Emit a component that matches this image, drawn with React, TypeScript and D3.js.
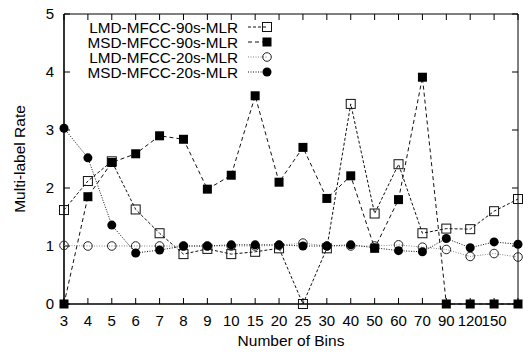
import React from "react";
import * as d3 from "d3";

const categories = ["3", "4", "5", "6", "7", "8", "9", "10", "15", "20", "25", "30", "40", "50", "60", "70", "90", "120", "150", "200"];
const tickLabels = ["3", "4", "5", "6", "7", "8", "9", "10", "15", "20", "25", "30", "40", "50", "60", "70", "90", "120", "150", ""];
const yTicks = [0, 1, 2, 3, 4, 5];

const lmd90 = [1.62, 2.12, 2.46, 1.63, 1.22, 0.86, 0.95, 0.86, 0.9, 0.96, 0, 0.96, 3.45, 1.56, 2.41, 1.22, 1.3, 1.29, 1.6, 1.81];
const msd90 = [0, 1.85, 2.44, 2.59, 2.9, 2.84, 1.98, 2.22, 3.59, 2.1, 2.7, 1.82, 2.21, 0.96, 1.8, 3.91, 0, 0, 0, 0];
const lmd20 = [1.01, 1.0, 1.0, 1.0, 1.0, 1.0, 1.0, 1.0, 1.0, 1.01, 1.05, 1.0, 1.0, 1.0, 1.02, 0.98, 0.94, 0.82, 0.87, 0.81];
const msd20 = [3.03, 2.52, 1.36, 0.88, 0.93, 1.0, 1.0, 1.02, 1.02, 1.02, 1.0, 1.0, 1.02, 0.97, 0.92, 0.9, 1.13, 0.97, 1.07, 1.03];

type Marker = "openSquare" | "filledSquare" | "openCircle" | "filledCircle";
interface Series {
  name: string;
  values: number[];
  marker: Marker;
  dash: string;
  color: string;
  markerColor: string;
}

const series: Series[] = [
  { name: "LMD-MFCC-90s-MLR", values: lmd90, marker: "openSquare", dash: "3,2", color: "#111", markerColor: "#111" },
  { name: "MSD-MFCC-90s-MLR", values: msd90, marker: "filledSquare", dash: "4,3", color: "#111", markerColor: "#000" },
  { name: "LMD-MFCC-20s-MLR", values: lmd20, marker: "openCircle", dash: "1,1.5", color: "#888", markerColor: "#222" },
  { name: "MSD-MFCC-20s-MLR", values: msd20, marker: "filledCircle", dash: "1,1.5", color: "#111", markerColor: "#000" },
];

const FONT = "'Liberation Sans', Arial, Helvetica, sans-serif";
const FS = 15;

function MarkerShape({ type, x, y, color }: { type: Marker; x: number; y: number; color: string }) {
  switch (type) {
    case "openSquare":
      return <rect x={x - 4.5} y={y - 4.5} width={9} height={9} fill="none" stroke={color} strokeWidth={1} />;
    case "filledSquare":
      return <rect x={x - 4.5} y={y - 4.5} width={9} height={9} fill={color} />;
    case "openCircle":
      return <circle cx={x} cy={y} r={4.3} fill="none" stroke={color} strokeWidth={1} />;
    default:
      return <circle cx={x} cy={y} r={4.5} fill={color} />;
  }
}

export default function App() {
  const W = 523;
  const H = 354;
  const left = 64;
  const right = 518;
  const top = 14;
  const bottom = 304;

  const x = d3.scalePoint<string>().domain(categories).range([left, right]);
  const y = d3.scaleLinear().domain([0, 5]).range([bottom, top]);

  const line = d3
    .line<number>()
    .x((_, i) => x(categories[i]) as number)
    .y((v) => y(v));

  const legendRows = [27, 42, 57, 72];

  return (
    <svg width={W} height={H} style={{ position: "absolute", left: 0, top: 0, background: "#fff" }} fontFamily={FONT}>
      <rect width={W} height={H} fill="#fff" />

      {/* ticks: bottom/top at each bin, left/right at each rate level */}
      {categories.map((c, i) => {
        const xx = x(c) as number;
        return (
          <g key={c}>
            <line x1={xx} x2={xx} y1={bottom} y2={bottom - 6} stroke="#000" />
            <line x1={xx} x2={xx} y1={top} y2={top + 6} stroke="#000" />
            <text x={xx} y={bottom + 22} textAnchor="middle" fontSize={FS} fill="#000">
              {tickLabels[i]}
            </text>
          </g>
        );
      })}
      {yTicks.map((t) => (
        <g key={t}>
          <line x1={left} x2={left + 6} y1={y(t)} y2={y(t)} stroke="#000" />
          <line x1={right} x2={right - 6} y1={y(t)} y2={y(t)} stroke="#000" />
          <text x={left - 10} y={y(t) + 5} textAnchor="end" fontSize={FS} fill="#000">
            {t}
          </text>
        </g>
      ))}

      {/* frame */}
      <line x1={left} x2={right} y1={top} y2={top} stroke="#000" strokeWidth={1} />
      <line x1={right} x2={right} y1={top} y2={bottom} stroke="#000" strokeWidth={1} />
      <line x1={left} x2={left} y1={top} y2={bottom} stroke="#000" strokeWidth={1.6} />
      <line x1={left} x2={right} y1={bottom} y2={bottom} stroke="#000" strokeWidth={1.6} />

      {/* axis titles */}
      <text x={(left + right) / 2} y={346} textAnchor="middle" fontSize={15.5} fill="#000">
        Number of Bins
      </text>
      <text
        transform={`translate(25, ${(top + bottom) / 2}) rotate(-90)`}
        textAnchor="middle"
        fontSize={15.5}
        fill="#000"
      >
        Multi-label Rate
      </text>

      {/* series */}
      {series.map((s) => (
        <g key={s.name}>
          <path d={line(s.values) ?? ""} fill="none" stroke={s.color} strokeWidth={1} strokeDasharray={s.dash} />
          {s.values.map((v, i) => (
            <MarkerShape key={i} type={s.marker} x={x(categories[i]) as number} y={y(v)} color={s.markerColor} />
          ))}
        </g>
      ))}

      {/* legend */}
      {series.map((s, i) => {
        const ly = legendRows[i];
        return (
          <g key={s.name}>
            <text x={238} y={ly + 5.5} textAnchor="end" fontSize={15.3} fill="#000">
              {s.name}
            </text>
            <line x1={248} x2={267} y1={ly} y2={ly} stroke={s.color} strokeWidth={1} strokeDasharray={s.dash} />
            <MarkerShape type={s.marker} x={267} y={ly} color={s.markerColor} />
          </g>
        );
      })}
    </svg>
  );
}
